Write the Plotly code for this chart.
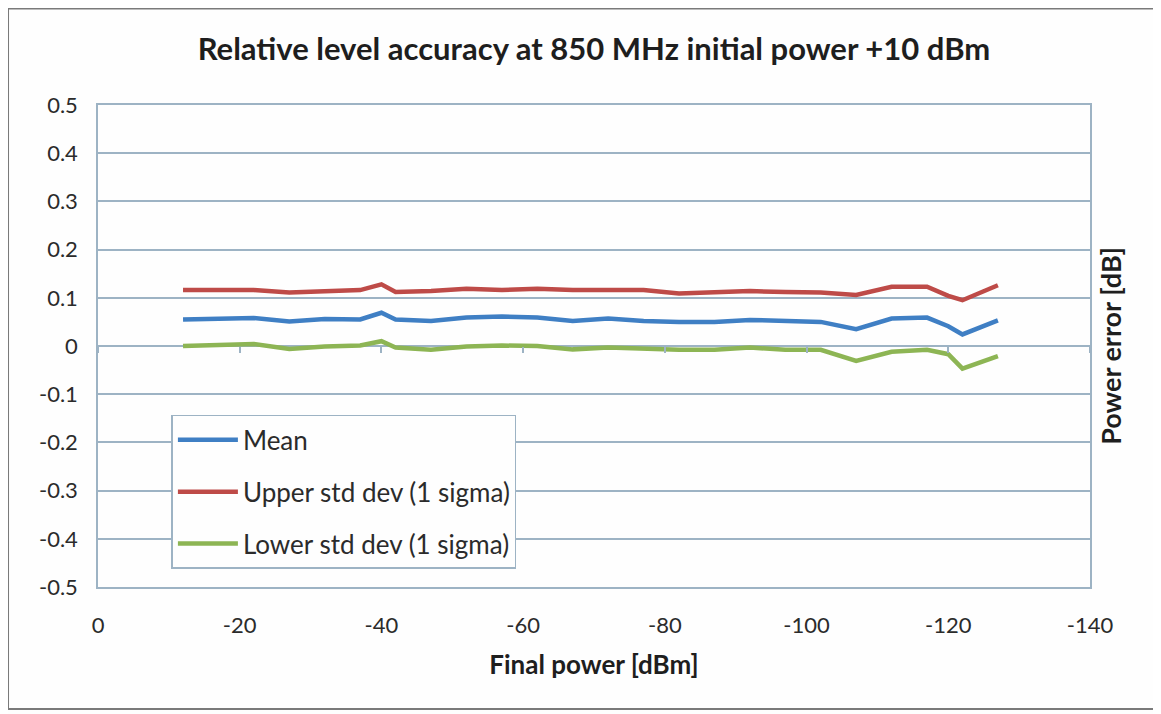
import plotly.graph_objects as go

final_power = [-12, -17, -22, -27, -32, -37, -40, -42, -47, -52, -57, -62, -67, -72,
               -77, -82, -87, -92, -97, -102, -107, -112, -117, -120, -122, -127]
mean_err = [0.055, 0.057, 0.058, 0.051, 0.056, 0.055, 0.069, 0.055, 0.052, 0.059, 0.061,
            0.059, 0.052, 0.057, 0.052, 0.050, 0.050, 0.054, 0.051, 0.050, 0.035, 0.057,
            0.059, 0.041, 0.024, 0.053]
upper_err = [0.116, 0.116, 0.116, 0.111, 0.114, 0.116, 0.128, 0.112, 0.114, 0.119, 0.116,
             0.119, 0.116, 0.116, 0.116, 0.109, 0.111, 0.114, 0.112, 0.111, 0.106, 0.123,
             0.123, 0.104, 0.095, 0.126]
lower_err = [0.000, 0.002, 0.004, -0.006, -0.001, 0.001, 0.010, -0.003, -0.008, -0.001, 0.001,
             0.000, -0.007, -0.003, -0.006, -0.008, -0.008, -0.003, -0.008, -0.008, -0.031,
             -0.012, -0.008, -0.017, -0.047, -0.021]

x_ticks = [0, -20, -40, -60, -80, -100, -120, -140]
x_tick_labels = ["0", "-20", "-40", "-60", "-80", "-100", "-120", "-140"]
y_ticks = [0.5, 0.4, 0.3, 0.2, 0.1, 0, -0.1, -0.2, -0.3, -0.4, -0.5]
y_tick_labels = ["0.5", "0.4", "0.3", "0.2", "0.1", "0", "-0.1", "-0.2", "-0.3", "-0.4", "-0.5"]

series = [
    ("Mean", mean_err, "#3F7FC4"),
    ("Upper std dev (1 sigma)", upper_err, "#BE4B48"),
    ("Lower std dev (1 sigma)", lower_err, "#8DB554"),
]

GRID = "#9DB3C4"
TXT = "#2B2B2B"
FONT = "Lato"

fig = go.Figure()
for i, (name, vals, col) in enumerate(series):
    fig.add_trace(go.Scatter(x=final_power, y=vals, mode="lines", name=name,
                             legendgroup=f"g{i}",
                             line=dict(color=col, width=4.5)))

# invisible trace to host the tick axis that crosses at y = 0
fig.add_trace(go.Scatter(x=final_power, y=mean_err, xaxis="x2", mode="lines",
                         opacity=0, showlegend=False, hoverinfo="skip"))

fig.update_layout(
    width=1161, height=714,
    paper_bgcolor="#FEFEFE", plot_bgcolor="#FEFEFE",
    margin=dict(l=90, r=79, t=97, b=135),
    font=dict(family=FONT, color=TXT),
    title=dict(text="<b>Relative level accuracy at 850 MHz initial power +10 dBm</b>",
               x=0.5, xref="paper", xanchor="center", y=0.942, yanchor="middle",
               font=dict(size=31, family=FONT, color="#1E1E1E")),
    xaxis=dict(range=[0, -140], tickvals=x_ticks, ticktext=x_tick_labels,
               showgrid=False, zeroline=False, showline=True, mirror=True,
               linecolor=GRID, linewidth=1.5, ticks="", ticklabelstandoff=18,
               tickfont=dict(size=22, family=FONT, color=TXT),
               title=dict(text="<b>Final power [dBm]</b>", standoff=19,
                          font=dict(size=26, family=FONT, color="#1E1E1E"))),
    xaxis2=dict(range=[0, -140], overlaying="x", anchor="free", position=0.5,
                side="bottom", tickvals=x_ticks, showticklabels=False,
                showgrid=False, zeroline=False, showline=False,
                ticks="outside", ticklen=6, tickwidth=1.5, tickcolor=GRID),
    yaxis=dict(range=[-0.5, 0.5], tickvals=y_ticks, ticktext=y_tick_labels,
               showgrid=True, gridcolor=GRID, gridwidth=1.5,
               zeroline=False, showline=True, mirror=True,
               linecolor=GRID, linewidth=1.5, ticks="", ticklabelstandoff=14,
               tickfont=dict(size=22, family=FONT, color=TXT)),
    legend=dict(x=0.074, y=0.357, xanchor="left", yanchor="top",
                bgcolor="#FEFEFE", bordercolor=GRID, borderwidth=1.5,
                font=dict(size=26, family=FONT, color=TXT),
                traceorder="grouped", tracegroupgap=15, itemwidth=60),
    showlegend=True,
    annotations=[dict(text="<b>Power error [dB]</b>", xref="paper", yref="paper",
                      x=1.020, y=0.5, xanchor="center", yanchor="middle",
                      textangle=-90, showarrow=False,
                      font=dict(size=27, family=FONT, color="#1E1E1E"))],
    shapes=[dict(type="rect", xref="paper", yref="paper",
                 x0=-0.0907, x1=1.0696, y0=-0.253, y1=1.2,
                 line=dict(color="#7A7A7A", width=2), fillcolor="rgba(0,0,0,0)",
                 layer="below")],
)

fig.write_html("out.html")
